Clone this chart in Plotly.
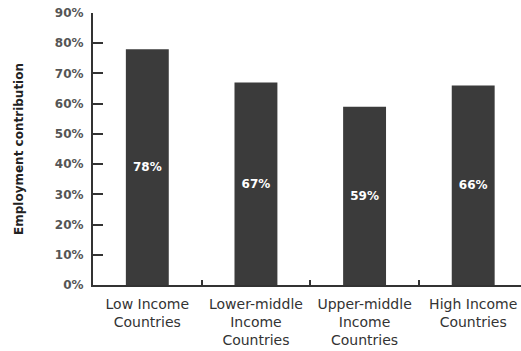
import plotly.graph_objects as go

categories = ["Low Income<br>Countries", "Lower-middle<br>Income<br>Countries",
              "Upper-middle<br>Income<br>Countries", "High Income<br>Countries"]
values = [78, 67, 59, 66]
labels = ["78%", "67%", "59%", "66%"]
y_ticks = [0, 10, 20, 30, 40, 50, 60, 70, 80, 90]
y_ticktext = [f"{v}%" for v in y_ticks]

fig = go.Figure(go.Bar(
    x=categories, y=values, text=labels,
    textposition="inside", insidetextanchor="middle",
    textfont=dict(family="DejaVu Sans", size=12, color="white", weight="bold"),
    marker=dict(color="#3b3b3b", line=dict(width=0)),
    width=0.395, cliponaxis=False,
))

fig.update_layout(
    width=521, height=351,
    margin=dict(l=93, r=0, t=13, b=66),
    paper_bgcolor="white", plot_bgcolor="white",
    showlegend=False,
    xaxis=dict(
        range=[-0.5, 3.44], showline=True, linecolor="#333", linewidth=2,
        ticks="inside", tickson="boundaries", ticklen=5, tickcolor="#333", tickwidth=2,
        tickfont=dict(family="DejaVu Sans", size=14, color="#333"),
        ticklabelstandoff=5,
        showgrid=False, zeroline=False, automargin=False,
    ),
    yaxis=dict(
        range=[0, 90], tickvals=y_ticks, ticktext=y_ticktext,
        showline=True, linecolor="#333", linewidth=2,
        ticks="inside", ticklen=10, tickcolor="#333", tickwidth=2,
        tickfont=dict(family="DejaVu Sans", size=12, color="#555", weight="bold"),
        ticklabelstandoff=5,
        showgrid=False, zeroline=False, automargin=False,
        title=dict(text="Employment contribution",
                   font=dict(family="DejaVu Sans", size=12, color="#222", weight="bold"),
                   standoff=29),
    ),
)

fig.write_html("out.html")
